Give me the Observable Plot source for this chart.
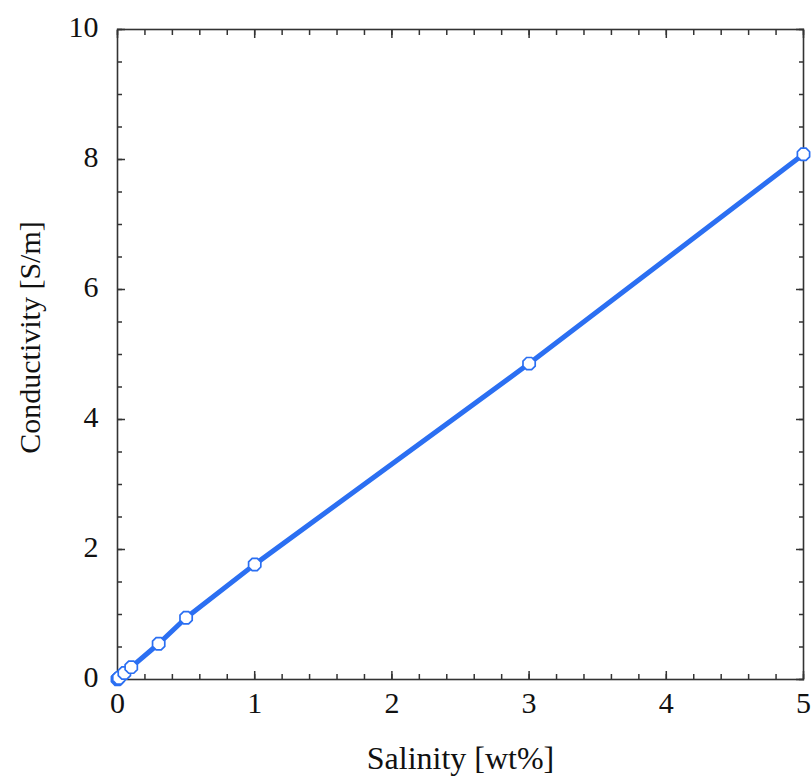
<!DOCTYPE html>
<html>
<head>
<meta charset="utf-8">
<script src="https://cdn.jsdelivr.net/npm/d3@7"></script>
<script src="https://cdn.jsdelivr.net/npm/@observablehq/plot@0.6"></script>
<style>
  html, body { margin: 0; padding: 0; background: #fff; }
</style>
</head>
<body>
<div id="chart"></div>
<script>
// Salinity of the sample solution and its measured conductivity
const salinity = [0, 0.005, 0.01, 0.05, 0.1, 0.3, 0.5, 1, 3, 5];        // wt%
const conductivity = [0.005, 0.012, 0.025, 0.1, 0.19, 0.55, 0.95, 1.77, 4.86, 8.08]; // S/m

const xMajor = [0, 1, 2, 3, 4, 5];
const xMinor = d3.range(0, 5.001, 0.2);
const yMajor = [0, 2, 4, 6, 8, 10];
const yMinor = d3.range(0, 10.001, 0.5);
const xTitle = "Salinity [wt%]";
const yTitle = "Conductivity [S/m]";

const data = salinity.map((s, i) => ({s, c: conductivity[i]}));

const blue = "#2b6ff2";
const axisColor = "#333";
const serif = "'Liberation Serif', 'Times New Roman', serif";

// Open octagonal marker
const octagon = {
  draw(context, size) {
    const r = Math.sqrt(size / Math.PI) * 1.05;
    for (let i = 0; i < 8; i++) {
      const a = Math.PI / 8 + i * Math.PI / 4;
      const px = r * Math.cos(a), py = r * Math.sin(a);
      if (i === 0) context.moveTo(px, py); else context.lineTo(px, py);
    }
    context.closePath();
  }
};

// ticks pointing into the plot area
const inward = (anchor, ticks, size) =>
  (anchor === "top" || anchor === "bottom")
    ? Plot.axisX(ticks, {anchor, tickSize: -size, tickFormat: () => "", stroke: axisColor, strokeWidth: 1.5, label: null})
    : Plot.axisY(ticks, {anchor, tickSize: -size, tickFormat: () => "", stroke: axisColor, strokeWidth: 1.5, label: null});

const chart = Plot.plot({
  width: 811,
  height: 778,
  marginLeft: 117,
  marginRight: 8,
  marginTop: 29,
  marginBottom: 99,
  style: {fontFamily: serif, fontSize: "30px", color: "#111", background: "#fff"},
  x: {domain: [0, 5]},
  y: {domain: [0, 10]},
  marks: [
    inward("bottom", xMinor, 5), inward("top", xMinor, 5),
    inward("bottom", xMajor, 8), inward("top", xMajor, 8),
    inward("left", yMinor, 5), inward("right", yMinor, 5),
    inward("left", yMajor, 8), inward("right", yMajor, 8),
    // tick labels
    Plot.axisX(xMajor, {anchor: "bottom", tickSize: 0, tickPadding: 12, fontSize: 30,
      tickFormat: d3.format("d"), label: null}),
    Plot.axisY(yMajor, {anchor: "left", tickSize: 0, tickPadding: 19, fontSize: 30, dy: -2,
      tickFormat: d3.format("d"), label: null}),
    // axis titles
    Plot.text([xTitle], {text: d => d, frameAnchor: "bottom", textAnchor: "middle", lineAnchor: "middle",
      dy: 79, fontSize: 32, fill: "#111"}),
    Plot.text([yTitle], {text: d => d, frameAnchor: "left", textAnchor: "middle", lineAnchor: "middle",
      rotate: -90, dx: -87, dy: -17, fontSize: 30, fill: "#111"}),
    Plot.frame({stroke: axisColor, strokeWidth: 1.6}),
    Plot.line(data, {x: "s", y: "c", stroke: blue, strokeWidth: 5}),
    Plot.dot(data, {x: "s", y: "c", symbol: octagon, r: 6.3, stroke: blue, strokeWidth: 1.7, fill: "white"})
  ]
});

document.getElementById("chart").append(chart);
</script>
</body>
</html>
